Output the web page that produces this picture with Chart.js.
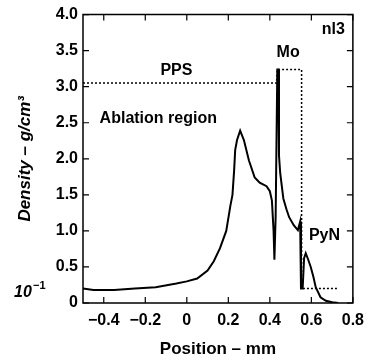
<!DOCTYPE html>
<html>
<head>
<meta charset="utf-8">
<script src="https://cdn.jsdelivr.net/npm/chart.js@4.4.1/dist/chart.umd.min.js"></script>
<style>
html, body { margin: 0; padding: 0; background: #fff; }
canvas { display: block; }
</style>
</head>
<body>
<canvas id="densityChart" width="372" height="360"></canvas>
<script>
// density profile (solid)
const profileX = [-0.5, -0.45, -0.35, -0.25, -0.15, -0.05, 0.0, 0.05, 0.10, 0.13, 0.16, 0.19, 0.21, 0.22,
    0.228, 0.233, 0.242, 0.257, 0.275, 0.299, 0.327, 0.351, 0.384, 0.40, 0.41, 0.418, 0.422, 0.428,
    0.436, 0.441, 0.444, 0.45, 0.465, 0.48, 0.493, 0.515, 0.535, 0.546, 0.550, 0.558, 0.565, 0.573,
    0.585, 0.597, 0.61, 0.621, 0.644, 0.67, 0.70, 0.73];
const profileY = [0.20, 0.18, 0.18, 0.20, 0.22, 0.27, 0.30, 0.34, 0.45, 0.58, 0.76, 1.00, 1.35, 1.50,
    1.84, 2.12, 2.26, 2.39, 2.26, 1.98, 1.74, 1.67, 1.62, 1.55, 1.42, 1.00, 0.60, 1.20,
    3.24, 3.24, 2.05, 1.80, 1.45, 1.30, 1.19, 1.08, 1.01, 1.13, 0.20, 0.20, 0.62, 0.69,
    0.60, 0.50, 0.36, 0.22, 0.08, 0.03, 0.01, 0.00];

// initial target densities (dotted): PPS, Mo, PyN
const initialX = [-0.5, 0.432, 0.436, 0.553, 0.553, 0.725];
const initialY = [3.05, 3.05, 3.24, 3.24, 0.20, 0.20];

const xTicks = [-0.4, -0.2, 0, 0.2, 0.4, 0.6, 0.8];
const yTicks = [0, 0.5, 1.0, 1.5, 2.0, 2.5, 3.0, 3.5, 4.0];

const notes = [
    { text: "PPS", x: -0.05, y: 3.22, align: "center" },
    { text: "Ablation region", x: -0.42, y: 2.56, align: "left" },
    { text: "Mo", x: 0.488, y: 3.47, align: "center" },
    { text: "nl3", x: 0.706, y: 3.79, align: "center" },
    { text: "PyN", x: 0.663, y: 0.94, align: "center" }
];

const FONT = "'Liberation Sans', Arial, sans-serif";

function toPoints(xs, ys) {
    return xs.map((x, i) => ({ x: x, y: ys[i] }));
}

function tickText(v) {
    if (v === 0) return "0";
    return (v < 0 ? "\u2212" : "") + Math.abs(v).toFixed(1);
}

const framePlugin = {
    id: "frame",
    afterDraw(chart) {
        const ctx = chart.ctx;
        const a = chart.chartArea;
        const xs = chart.scales.x;
        const ys = chart.scales.y;
        ctx.save();
        ctx.setLineDash([]);
        ctx.globalAlpha = 1;
        ctx.strokeStyle = "#000000";
        ctx.lineWidth = 1.5;
        ctx.beginPath();
        ctx.moveTo(a.left, a.top);
        ctx.lineTo(a.right, a.top);
        ctx.lineTo(a.right, a.bottom);
        ctx.lineTo(a.left, a.bottom);
        ctx.closePath();
        ctx.stroke();

        // inward ticks on all four sides
        ctx.lineWidth = 1.2;
        ctx.beginPath();
        xTicks.forEach(v => {
            const px = xs.getPixelForValue(v);
            ctx.moveTo(px, a.bottom); ctx.lineTo(px, a.bottom - 6);
            ctx.moveTo(px, a.top); ctx.lineTo(px, a.top + 6);
        });
        yTicks.forEach(v => {
            const py = ys.getPixelForValue(v);
            ctx.moveTo(a.left, py); ctx.lineTo(a.left + 6, py);
            ctx.moveTo(a.right, py); ctx.lineTo(a.right - 6, py);
        });
        ctx.stroke();

        ctx.fillStyle = "#000";
        ctx.font = "bold 16px " + FONT;
        ctx.textBaseline = "middle";
        notes.forEach(n => {
            ctx.textAlign = n.align;
            ctx.fillText(n.text, xs.getPixelForValue(n.x), ys.getPixelForValue(n.y));
        });

        // 10^-1 marker beside the axis
        const py = ys.getPixelForValue(0.15);
        ctx.textAlign = "left";
        ctx.font = "bold italic 16px " + FONT;
        ctx.fillText("10", 14, py);
        ctx.font = "bold 11px " + FONT;
        ctx.fillText("\u22121", 33, py - 6);
        ctx.restore();
    }
};

new Chart(document.getElementById("densityChart").getContext("2d"), {
    type: "line",
    data: {
        datasets: [{
            label: "Density",
            data: toPoints(profileX, profileY),
            borderColor: "#000",
            borderWidth: 2,
            pointRadius: 0,
            fill: false,
            tension: 0
        }, {
            label: "Initial",
            data: toPoints(initialX, initialY),
            borderColor: "#000",
            borderWidth: 1.5,
            borderDash: [2, 2],
            pointRadius: 0,
            fill: false,
            tension: 0
        }]
    },
    options: {
        responsive: false,
        animation: false,
        events: [],
        layout: { padding: { top: 14, right: 14, left: 0, bottom: 0 } },
        plugins: {
            legend: { display: false },
            tooltip: { enabled: false }
        },
        scales: {
            x: {
                type: "linear",
                min: -0.5,
                max: 0.8,
                grid: { display: false, drawTicks: false },
                border: { display: false },
                afterBuildTicks: scale => { scale.ticks = xTicks.map(v => ({ value: v })); },
                afterFit: scale => { scale.height = 57; },
                ticks: {
                    color: "#000",
                    padding: 8,
                    maxRotation: 0,
                    font: { family: FONT, size: 16, weight: "bold" },
                    callback: v => tickText(v)
                },
                title: {
                    display: true,
                    text: "Position \u2013 mm",
                    color: "#000",
                    padding: { top: 0, bottom: 0 },
                    font: { family: FONT, size: 17, weight: "bold" }
                }
            },
            y: {
                min: 0,
                max: 4,
                grid: { display: false, drawTicks: false },
                border: { display: false },
                afterBuildTicks: scale => { scale.ticks = yTicks.map(v => ({ value: v })); },
                afterFit: scale => { scale.width = 83; },
                ticks: {
                    color: "#000",
                    padding: 5,
                    font: { family: FONT, size: 16, weight: "bold" },
                    callback: v => tickText(v)
                },
                title: {
                    display: true,
                    text: "Density \u2013 g/cm\u00b3",
                    color: "#000",
                    padding: { top: 15, bottom: 0 },
                    font: { family: FONT, size: 17, weight: "bold", style: "italic" }
                }
            }
        }
    },
    plugins: [framePlugin]
});
</script>
</body>
</html>
